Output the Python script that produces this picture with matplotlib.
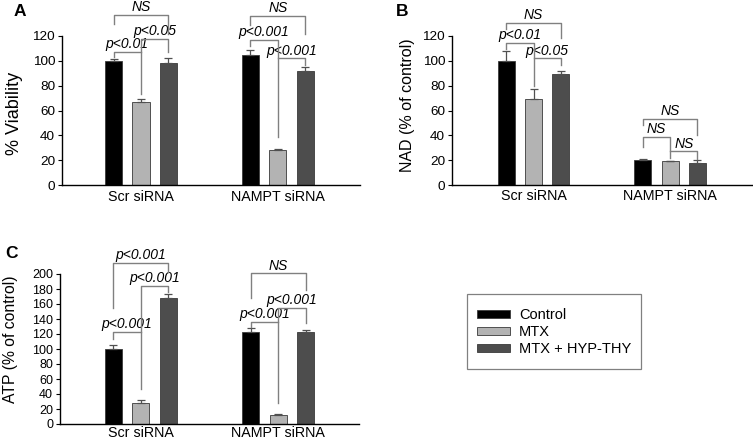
import matplotlib
matplotlib.use('Agg')
import matplotlib.pyplot as plt
from matplotlib.patches import Patch, Rectangle

plt.rcParams['font.family'] = ['Liberation Sans', 'DejaVu Sans']

groups = ['Scr siRNA', 'NAMPT siRNA']
treatments = ['Control', 'MTX', 'MTX + HYP-THY']
colors = ['#000000', '#b3b3b3', '#4d4d4d']

# Panel A: % viability  (values per treatment, [Scr, NAMPT])
via_control = [100, 105]
via_mtx = [67, 28]
via_hyp = [98, 92]
via_control_err = [1.5, 4]
via_mtx_err = [2.5, 1]
via_hyp_err = [4, 3]

# Panel B: NAD (% of control)
nad_control = [100, 20]
nad_mtx = [69, 19]
nad_hyp = [89, 18]
nad_control_err = [8, 0.6]
nad_mtx_err = [8, 0.6]
nad_hyp_err = [3, 2.5]

# Panel C: ATP (% of control)
atp_control = [100, 123]
atp_mtx = [28, 12]
atp_hyp = [168, 123]
atp_control_err = [5, 5]
atp_mtx_err = [4, 1]
atp_hyp_err = [6, 3]

# significance brackets: (bar i, bar j, height, left leg bottom, right leg bottom, label)
# bar index = group*3 + treatment
brackets_a = [
    (0, 1, 107, 103, 107, 'p<0.01'),
    (1, 2, 117.6, 73, 107, 'p<0.05'),
    (0, 2, 137, 130, 122, 'NS'),
    (3, 4, 116.8, 112, 39, 'p<0.001'),
    (4, 5, 102, 102, 96.6, 'p<0.001'),
    (3, 5, 136, 129, 122, 'NS'),
]
brackets_b = [
    (0, 1, 114.6, 109.5, 80, 'p<0.01'),
    (1, 2, 102, 102, 96.6, 'p<0.05'),
    (0, 2, 130.6, 126, 118, 'NS'),
    (3, 4, 39, 30.6, 21.7, 'NS'),
    (4, 5, 27, 27, 21, 'NS'),
    (3, 5, 53, 48, 40, 'NS'),
]
brackets_c = [
    (0, 1, 122.7, 114, 122.7, 'p<0.001'),
    (1, 2, 184, 46.7, 176, 'p<0.001'),
    (0, 2, 214.7, 154.7, 203, 'p<0.001'),
    (3, 4, 136.4, 129, 136.4, 'p<0.001'),
    (4, 5, 155, 28, 134.6, 'p<0.001'),
    (3, 5, 201, 168, 178.7, 'NS'),
]

OFF = 0.2
W = 0.125


def bar_x(idx):
    g, t = divmod(idx, 3)
    return g + (t - 1) * OFF


def draw_panel(ax, means, errs, ylim, yticks, ylabel, brackets, xlim,
               ytick_size, ylabel_size, ylabel_xy, xpad):
    for t in range(3):
        xs = [g + (t - 1) * OFF for g in range(len(groups))]
        ax.bar(xs, means[t], W, color=colors[t], edgecolor='#3a3a3a',
               linewidth=0.6, zorder=2)
        ax.errorbar(xs, means[t], yerr=[[0] * len(xs), errs[t]], fmt='none',
                    ecolor='#505050', elinewidth=0.9, capsize=3.2,
                    capthick=0.9, zorder=3)
    for i, j, h, lb, rb, lab in brackets:
        x1, x2 = bar_x(i), bar_x(j)
        ax.plot([x1, x1, x2, x2], [lb, h, h, rb], color='#808080', lw=1.0,
                clip_on=False, zorder=4)
        ax.annotate(lab, ((x1 + x2) / 2, h), xytext=(0, 0.5),
                    textcoords='offset points', ha='center', va='bottom',
                    fontsize=10, style='italic', annotation_clip=False)
    ax.set_xlim(*xlim)
    ax.set_ylim(*ylim)
    ax.set_yticks(yticks)
    ax.set_xticks(range(len(groups)))
    ax.set_xticklabels(groups, fontsize=10.3)
    ax.tick_params(axis='x', length=0, pad=xpad)
    ax.tick_params(axis='y', length=3, width=0.8, labelsize=ytick_size, pad=2)
    for s in ['top', 'right']:
        ax.spines[s].set_visible(False)
    for s in ['left', 'bottom']:
        ax.spines[s].set_linewidth(1.0)
    ax.set_ylabel(ylabel, fontsize=ylabel_size)
    ax.yaxis.set_label_coords(*ylabel_xy)


fig = plt.figure(figsize=(7.53, 4.43), dpi=100)

axA = fig.add_axes([62 / 753, 1 - 185 / 443, 298 / 753, 149 / 443])
draw_panel(axA, [via_control, via_mtx, via_hyp],
           [via_control_err, via_mtx_err, via_hyp_err],
           (0, 120), range(0, 121, 20), '% Viability', brackets_a,
           (-0.577, 1.60), 9.7, 13, (-0.131, 0.477), 3.6)

axB = fig.add_axes([452 / 753, 1 - 185 / 443, 300 / 753, 149 / 443])
draw_panel(axB, [nad_control, nad_mtx, nad_hyp],
           [nad_control_err, nad_mtx_err, nad_hyp_err],
           (0, 120), range(0, 121, 20), 'NAD (% of control)', brackets_b,
           (-0.597, 1.60), 9.7, 11.5, (-0.123, 0.537), 3.0)

axC = fig.add_axes([60 / 753, 1 - 424 / 443, 299 / 753, 150 / 443])
draw_panel(axC, [atp_control, atp_mtx, atp_hyp],
           [atp_control_err, atp_mtx_err, atp_hyp_err],
           (0, 200), range(0, 201, 20), 'ATP (% of control)', brackets_c,
           (-0.59, 1.59), 9.0, 11.3, (-0.14, 0.567), 1.2)

fig.text(14 / 753, 1 - 4 / 443, 'A', fontsize=12.5, fontweight='bold',
         va='top', ha='left')
fig.text(396 / 753, 1 - 4 / 443, 'B', fontsize=12.5, fontweight='bold',
         va='top', ha='left')
fig.text(5 / 753, 1 - 246 / 443, 'C', fontsize=12.5, fontweight='bold',
         va='top', ha='left')

# legend box
fig.add_artist(Rectangle((467 / 753, 1 - 369 / 443), 174 / 753, 75 / 443,
                         transform=fig.transFigure, fill=False,
                         edgecolor='#808080', linewidth=0.9))
handles = [Patch(facecolor=c, edgecolor='#3a3a3a', linewidth=0.6)
           for c in colors]
fig.legend(handles, treatments, loc='center',
           bbox_to_anchor=(554 / 753, 1 - 332 / 443), frameon=False,
           fontsize=10.5, handlelength=2.3, handleheight=0.45,
           handletextpad=0.6, labelspacing=0.2, borderpad=0,
           borderaxespad=0)

fig.savefig('out.png', dpi=100)
